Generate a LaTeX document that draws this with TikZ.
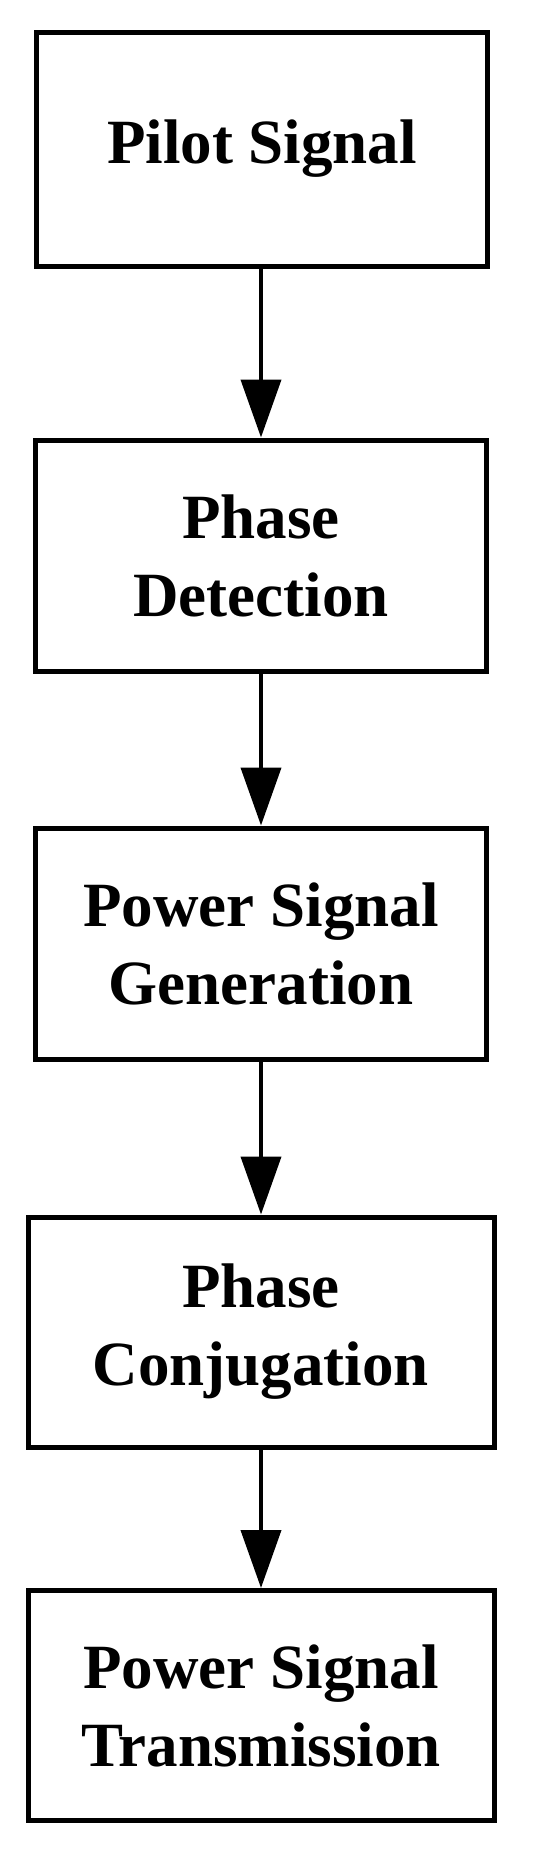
\documentclass[tikz,border=0pt]{standalone}
\usepackage{fontspec}
\setmainfont{Liberation Serif}
\usepackage{xcolor}
\definecolor{LineBlack}{RGB}{0,0,0}
\usetikzlibrary{
  shapes, arrows.meta,
  positioning, calc
}
\tikzset{
  % Plain flow box
  fbox/.style={
    rectangle, draw=LineBlack, line width=2.5pt,
    fill=white, align=center,
    minimum width=225.5pt, minimum height=115.5pt,
    font=\fontsize{31.5}{39}\selectfont\bfseries,
    inner sep=0pt
  },
  % Wider box variant
  fbox wide/.style={fbox, minimum width=233pt, minimum height=115pt},
  % Arrows
  arr/.style={-{Triangle[length=29pt,width=20pt]}, line width=2pt, LineBlack},
}
\begin{document}
\begin{tikzpicture}[x=0.5pt, y=-0.5pt]
  %% Frame (pixel units of the picture)
  \useasboundingbox (0,0) rectangle (540,1853);

  %% Boxes
  \node[fbox, minimum height=117pt] (pilot) at (262,149)    {Pilot Signal};
  \node[fbox]                       (detect) at (261,555.5) {Phase\\Detection};
  \node[fbox]                       (gen) at (261,943.5)    {Power Signal\\Generation};
  \node[fbox wide]                  (conj) at (261,1332)    {Phase\\Conjugation};
  \node[fbox wide]                  (trans) at (261,1705.5) {Power Signal\\Transmission};

  %% Flow
  \foreach \a/\b in {pilot/detect, detect/gen, gen/conj, conj/trans}{
    \draw[arr] (\b.north |- \a.south) -- (\b.north);
  }
\end{tikzpicture}
\end{document}
